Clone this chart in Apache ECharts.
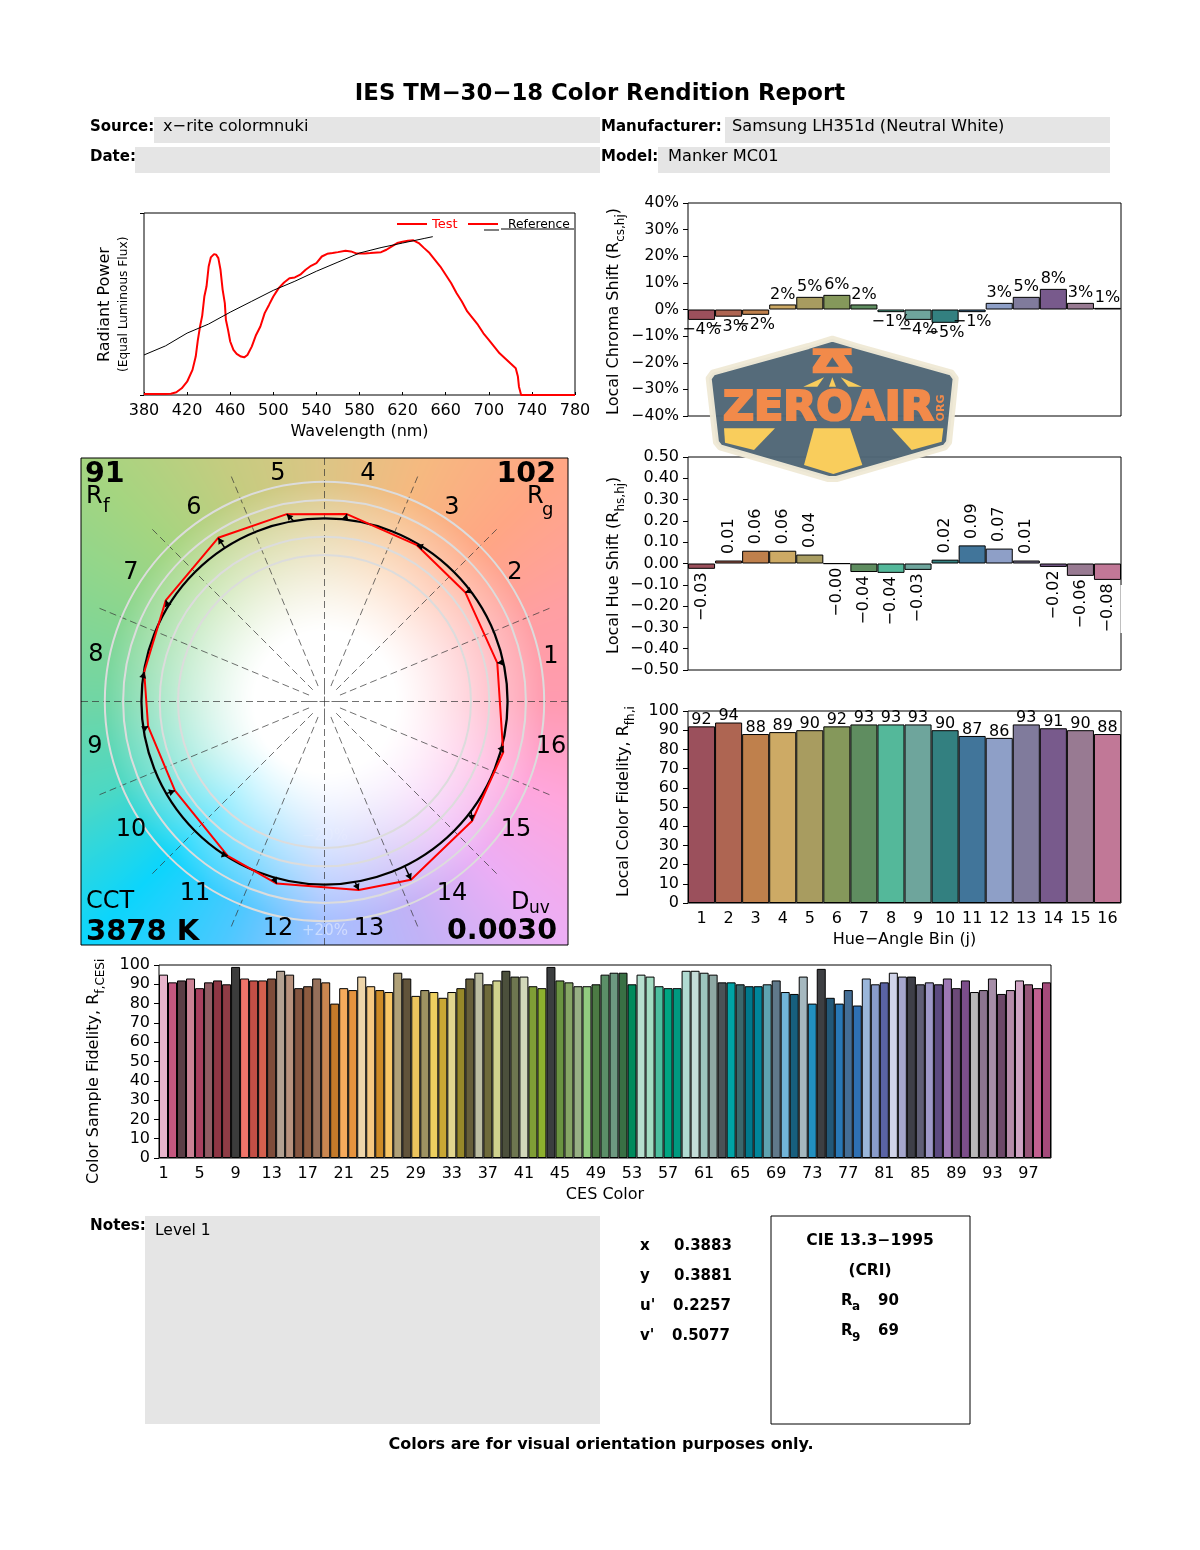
<!DOCTYPE html>
<html><head><meta charset="utf-8">
<style>html,body{margin:0;padding:0;background:#fff}#c{width:1200px;height:1550px}</style>
<script src="https://cdn.jsdelivr.net/npm/echarts@6/dist/echarts.min.js"></script>
</head><body><div id="c"></div>
<script>
const FONT='"DejaVu Sans"';
// ---------- data ----------
const spdTestWl=[380,400,405,410,415,420,425,428,430,432,434,436,438,440,442,445,447,449,451,453,455,456,458,460,463,466,470,473,476,480,484,488,492,496,500,505,510,515,520,525,530,535,540,545,550,555,560,567,572,577,585,590,600,605,610,615,620,625,630,635,640,645,650,655,660,665,670,675,680,685,690,695,700,705,710,715,720,725,727,728,730,780];
const spdTestVal=[0.005,0.005,0.007,0.015,0.037,0.073,0.138,0.211,0.303,0.376,0.435,0.541,0.596,0.706,0.756,0.774,0.771,0.752,0.688,0.578,0.505,0.413,0.358,0.294,0.248,0.226,0.211,0.207,0.22,0.266,0.33,0.376,0.45,0.495,0.541,0.587,0.618,0.642,0.646,0.661,0.688,0.71,0.725,0.761,0.776,0.78,0.785,0.793,0.789,0.778,0.778,0.78,0.785,0.798,0.817,0.835,0.842,0.848,0.85,0.835,0.807,0.78,0.743,0.706,0.661,0.615,0.56,0.514,0.459,0.422,0.385,0.339,0.303,0.266,0.229,0.202,0.174,0.147,0.101,0.046,0,0];
const spdRefWl=[380,400,420,440,460,480,500,520,540,560,580,600,620,640,648];
const spdRefVal=[0.22,0.27,0.34,0.39,0.455,0.515,0.575,0.625,0.68,0.73,0.78,0.81,0.835,0.86,0.87];
const binLabels=['1','2','3','4','5','6','7','8','9','10','11','12','13','14','15','16'];
const binColors=['#9b505c','#ae6552','#bf804c','#cdaa65','#a89c60','#85985b','#5f8d60','#54b89a','#6ea59c','#338080','#41759a','#8e9fc7','#807b9c','#785a8c','#987a92','#c17897'];
const chromaShift=[-3.9,-2.7,-2,1.9,4.75,5.5,1.9,-1,-3.9,-5,-1,2.5,4.75,7.75,2.5,0.6];
const hueShift=[-0.025,0.014,0.06,0.06,0.042,-0.001,-0.04,-0.044,-0.03,0.018,0.085,0.07,0.014,-0.016,-0.058,-0.077];
const binFidelity=[92,94,88,89,90,92,93,93,93,90,87,86,93,91,90,88];
const cesFidelity=[95,91,92,93,88,91,92,90,99,93,92,92,93,97,95,88,89,93,91,80,88,87,94,89,87,86,96,93,84,87,86,83,86,88,93,96,90,92,97,94,94,89,88,99,92,91,89,89,90,95,96,96,90,95,94,89,88,88,97,97,96,95,91,91,90,89,89,90,92,86,85,94,80,98,83,80,87,79,93,90,91,96,94,94,90,91,90,93,88,92,86,87,93,85,87,92,90,88,91];
const cesColors=['#e8b4cb','#c4577f','#5b3d45','#cb8295','#a8405f','#915c64','#8e3644','#8f3c45','#3c3c3c','#f0756a','#c24f46','#d4604e','#7e4c3a','#b3a192','#b8927e','#855641','#8e5c40','#96705a','#cb8750','#c47a2a','#f6aa5c','#e6933e','#eed5aa','#f6c880','#cd8a25','#f8c665','#b0a178','#61533a','#ecc45e','#9d9262','#edcf5f','#c9a734','#e2d68f','#978829','#665e3a','#bcbda2','#6e6a3a','#d0d28e','#4c503c','#6e7650','#d2d8ba','#7f9e36','#8db02e','#3b3e3f','#6a9340','#86a565','#97b084','#92cc80','#4c7a44','#5b8f68','#6d9980','#397044','#008a5c','#b6dfce','#a3dcc2','#4dbf9f','#00a582','#009a80','#b0dbd2','#c4dcd8','#9dc6be','#8ea8a4','#4a5256','#00a3a6','#3b676c','#00788c','#00859a','#5ea3b0','#60798a','#72b5d8','#175f7e','#a5b8bf','#2290c0','#3d3f42','#225878','#2878b6','#446e96','#2e70b4','#9ab6da','#8a9ccb','#5a63a4','#d0d3e8','#a5a6cc','#3e3f48','#5f5e76','#9e98c8','#5c4a80','#9d78b4','#6c4a78','#7c4e8a','#b8b8b8','#8c7490','#a68ea8','#6c4868','#b68caa','#d0a4c4','#965678','#c26090','#a44a7a'];
const cesLabels=cesFidelity.map((_,i)=>String(i+1));
const testRadius=[.967,.973,.992,1.031,1.044,1.066,1.028,.998,.973,.951,.995,1.028,1.046,1.082,1.037,1.015];
const testAngle=[12.6,37.7,59.4,83.2,101.4,123,147.5,170.7,188,210.8,237.9,255.3,280.3,295.9,321,344.1];
const refAngle=[12.4,37.3,57.5,83.5,99.7,123,148.6,171.9,188.6,210.2,236.9,253.8,279.6,296,323.2,345.1];
const ringValues=[0.8,0.9,1.0,1.1,1.2];
const hueBg=[[0,'#ff9bb0'],[22.5,'#ff9fa2'],[45,'#ffa684'],[67.5,'#f6b980'],[90,'#dcc585'],[112.5,'#c5cc80'],[135,'#a5d580'],[157.5,'#88d690'],[180,'#70d6a5'],[202.5,'#4cd8c4'],[225,'#0cd5fc'],[247.5,'#4cc8ff'],[270,'#a5c0ff'],[292.5,'#c2b2f6'],[315,'#ecaef5'],[337.5,'#ffa6dc'],[360,'#ff9bb0']];

// ---------- helpers ----------
const meas=document.createElement('canvas').getContext('2d');
const els=[];
function T(x,y,text,o){o=o||{};const size=o.size||15,weight=o.weight||'normal';
  els.push({type:'text',x:o.rot?x+1:x,y:o.rot?y:y+1,rotation:o.rot||0,z:o.z||50,silent:true,style:{text,fill:o.color||'#000',font:weight+' '+size+'px '+FONT,
    align:o.align||'left',verticalAlign:'middle',textAlign:o.align||'left',textVerticalAlign:'middle',opacity:o.opacity==null?1:o.opacity}});}
function upText(x,y,segs){ // rotated 90deg text reading upward, starts at (x,y)
  let p=y;segs.forEach(s=>{meas.font=s.size+'px '+FONT;T(x+(s.off||0),p,s.t,{size:s.size,rot:Math.PI/2});p-=meas.measureText(s.t).width;});}
function rect(x,y,w,h,fill,stroke,z){els.push({type:'rect',silent:true,z:z==null?1:z,shape:{x,y,width:w,height:h},style:{fill:fill||'none',stroke:stroke||'none',lineWidth:1}});}
function seg(x1,y1,x2,y2,c,w,z){els.push({type:'line',silent:true,z:z||40,shape:{x1,y1,x2,y2},style:{stroke:c,lineWidth:w}});}
function fmtMinus(s){return String(s).replace('-','\u2212');}

// background of the colour-vector graphic
function makeBg(){const W=487,cv=document.createElement('canvas');cv.width=W;cv.height=W;const c=cv.getContext('2d'),im=c.createImageData(W,W);
  const rgb=hueBg.map(h=>[h[0],parseInt(h[1].slice(1,3),16),parseInt(h[1].slice(3,5),16),parseInt(h[1].slice(5,7),16)]);
  for(let j=0;j<W;j++)for(let i=0;i<W;i++){const dx=i-W/2,dy=W/2-j,r=Math.hypot(dx,dy);let a=Math.atan2(dy,dx)*180/Math.PI;if(a<0)a+=360;
    const k=Math.min(15,Math.floor(a/22.5)),f=(a-rgb[k][0])/22.5,t=Math.min(1,Math.max(0,(r-70)/150)),u=Math.pow(t,1.2);
    const d=(i+j*W)*4;for(let n=0;n<3;n++){const col=rgb[k][n+1]*(1-f)+rgb[k+1][n+1]*f;im.data[d+n]=255*(1-u)+col*u;}im.data[d+3]=255;}
  c.putImageData(im,0,0);return cv;}
els.push({type:'image',z:-10,silent:true,style:{image:makeBg(),x:81,y:458,width:487,height:487}});
rect(81,458,487,487,'none','#000',45);

// header
T(600,93,'IES TM\u221230\u221218 Color Rendition Report',{size:22.8,weight:'bold',align:'center'});
[[154,117,446,26],[135,147,465,26],[725,117,385,26],[658,147,452,26],[145,1216,455,208]].forEach(r=>rect(r[0],r[1],r[2],r[3],'#e5e5e5'));
T(90,126,'Source:',{weight:'bold',size:15});T(90,156,'Date:',{weight:'bold',size:15});
T(601,126,'Manufacturer:',{weight:'bold',size:15});T(601,156,'Model:',{weight:'bold',size:15});
T(163,126,'x\u2212rite colormnuki',{size:16.2});T(732,126,'Samsung LH351d (Neutral White)',{size:16.2});T(668,156,'Manker MC01',{size:16.2});
// notes etc
T(90,1225,'Notes:',{weight:'bold',size:15.2});T(155,1230,'Level 1',{size:15.5});
[['x','0.3883',1245,674],['y','0.3881',1275,674],["u'",'0.2257',1305,673],["v'",'0.5077',1335,672]].forEach(r=>{T(640,r[2],r[0],{weight:'bold',size:15});T(r[3],r[2],r[1],{weight:'bold',size:15});});
rect(771,1216,199,208,'none','#000',5);
T(870,1240,'CIE 13.3\u22121995',{weight:'bold',size:15.5,align:'center'});T(870,1270,'(CRI)',{weight:'bold',size:15.5,align:'center'});
T(841,1300,'R',{weight:'bold',size:15});T(852,1306,'a',{weight:'bold',size:12});T(878,1300,'90',{weight:'bold',size:15});
T(841,1330,'R',{weight:'bold',size:15});T(852,1337,'9',{weight:'bold',size:12});T(878,1330,'69',{weight:'bold',size:15});
T(601,1444,'Colors are for visual orientation purposes only.',{weight:'bold',size:16,align:'center'});
// axis titles with subscripts
upText(104,362,[{t:'Radiant Power',size:16}]);upText(123,372,[{t:'(Equal Luminous Flux)',size:12.2}]);
upText(613,415,[{t:'Local Chroma Shift (R',size:16},{t:'cs,hj',size:12,off:7},{t:')',size:16}]);
upText(613,654,[{t:'Local Hue Shift (R',size:16},{t:'hs,hj',size:12,off:7},{t:')',size:16}]);
upText(623,897,[{t:'Local Color Fidelity, R',size:16},{t:'fh,i',size:12,off:7}]);
upText(93,1184,[{t:'Color Sample Fidelity, R',size:16},{t:'f,CESi',size:12,off:7}]);
// SPD legend
seg(397,224,427,224,'#f00',2);T(432,224,'Test',{size:13,color:'#f00'});seg(468,224,498,224,'#f00',2);T(508,224,'Reference',{size:12.3});
seg(484,230,499,230,'#000',1);seg(501,229,574,229,'#000',1);
// break in the hue chart frame
seg(1121.5,585,1121.5,633,'#fff',2,30);
// CVG texts
T(85,474,'91',{size:28.5,weight:'bold'});T(86,496,'R',{size:24});T(103,506,'f',{size:19});
T(556,474,'102',{size:28.5,weight:'bold',align:'right'});T(527,496,'R',{size:24});T(542,509,'g',{size:18});
T(86,901,'CCT',{size:24});T(86,931,'3878 K',{size:29,weight:'bold'});
T(511,902,'D',{size:24});T(529,908,'uv',{size:17});T(557,931,'0.0030',{size:28.5,weight:'bold',align:'right'});
T(325,930,'+20%',{size:15,color:'#fff',align:'center',opacity:.45});T(325,835,'\u221220%',{size:15,color:'#fff',align:'center',opacity:.12});
[[551,657],[515,573],[452,508],[368,474],[278,474],[194,508],[131,573],[96,655],[95,747],[131,830],[195,894],[278,929],[369,929],[452,894],[516,830],[551,747]].forEach((p,i)=>T(p[0],p[1]-1,binLabels[i],{size:24,align:'center'}));

// ZEROAIR watermark (decorative)
const L=(a)=>a.map(p=>[700+p[0]/3,330+p[1]/3]);
function poly(pts,fill,extra){els.push(Object.assign({type:'polygon',silent:true,z:60,shape:{points:L(pts)},style:Object.assign({fill},extra||{})}));}
poly([[397,26],[470,48],[755,128],[767,145],[747,337],[735,352],[410,447],[385,447],[60,352],[48,337],[26,145],[38,128],[325,48]],'#506676',{stroke:'#efe9d6',lineWidth:6,lineJoin:'round',opacity:.97});
poly([[338,55],[455,55],[455,75],[432,75],[457,112],[457,130],[338,130],[338,112],[363,75],[338,75]],'#f28a4a');
poly([[397,82],[417,110],[378,110]],'#506676');
poly([[310,170],[372,142],[352,170]],'#f9cd5c');poly([[387,170],[397,142],[408,170]],'#f9cd5c');poly([[422,142],[485,170],[445,170]],'#f9cd5c');
poly([[72,295],[225,295],[162,360],[75,338]],'#f9cd5c');poly([[342,295],[450,295],[487,405],[400,432],[312,405]],'#f9cd5c');poly([[575,295],[730,295],[725,335],[635,360]],'#f9cd5c');
els.push({type:'text',x:723,y:409,z:61,scaleX:1.045,silent:true,style:{text:'ZEROAIR',fill:'#f28a4a',stroke:'#f28a4a',lineWidth:2.2,font:'900 41px "DejaVu Sans"',align:'left',verticalAlign:'middle',textAlign:'left',textVerticalAlign:'middle'}});
els.push({type:'text',x:941,y:408,z:61,rotation:Math.PI/2,silent:true,style:{text:'ORG',fill:'#f28a4a',font:'900 11px "DejaVu Sans"',align:'center',verticalAlign:'middle',textAlign:'center',textVerticalAlign:'middle'}});

// ---------- chart ----------
const lab={fontFamily:FONT,fontSize:16,color:'#000'};
const frame=(i,l,t,w,h)=>({id:'g'+i,left:l,top:t,width:w,height:h,show:true,borderColor:'#000',borderWidth:1,backgroundColor:'transparent',containLabel:false});
const grids=[frame(0,144,213,431,182),frame(1,688,203,433,213),frame(2,688,457,433,213),frame(3,688,711,433,192),frame(4,159,965,892,193)];
const yTick={show:true,length:5,lineStyle:{color:'#000'}};
const catAxis=(gi,data,o)=>Object.assign({type:'category',gridIndex:gi,data,boundaryGap:true,axisLine:{show:false},axisTick:{show:false},splitLine:{show:false},axisLabel:Object.assign({},lab,{interval:0,margin:8})},o||{});
const valY=(gi,min,max,interval,fmt,size)=>({type:'value',gridIndex:gi,min,max,interval,axisLine:{show:false},axisTick:yTick,splitLine:{show:false},axisLabel:Object.assign({},lab,{margin:9,fontSize:size||16,formatter:fmt||(v=>String(v))})});
const bar=(gi,vals,colors,labelFn)=>({type:'bar',xAxisIndex:gi,yAxisIndex:gi,barWidth:'100%',barGap:'0%',silent:true,animation:false,
  data:vals.map((v,i)=>({value:v,itemStyle:{color:colors[i],borderColor:'#000',borderWidth:1},label:labelFn?labelFn(v,i):{show:false}}))});

const option={animation:false,backgroundColor:'#fff',textStyle:{fontFamily:FONT},graphic:{elements:els},
 grid:grids,
 xAxis:[
  {type:'value',gridIndex:0,min:380,max:780,interval:40,axisLine:{show:false},axisTick:{show:true,inside:true,length:3,lineStyle:{color:'#000'}},splitLine:{show:false},
   axisLabel:Object.assign({},lab,{margin:8,showMaxLabel:true,showMinLabel:true}),name:'Wavelength (nm)',nameLocation:'middle',nameGap:29,nameTextStyle:lab},
  catAxis(1,binLabels,{axisLabel:{show:false}}),
  catAxis(2,binLabels,{axisLabel:{show:false}}),
  catAxis(3,binLabels,{name:'Hue\u2212Angle Bin (j)',nameLocation:'middle',nameGap:29,nameTextStyle:lab}),
  catAxis(4,cesLabels,{axisLabel:Object.assign({},lab,{interval:3,margin:8}),name:'CES Color',nameLocation:'middle',nameGap:29,nameTextStyle:lab})
 ],
 yAxis:[
  {type:'value',gridIndex:0,min:0,max:1,interval:1,axisLine:{show:false},axisTick:{show:true,length:4,lineStyle:{color:'#000'}},axisLabel:{show:false},splitLine:{show:false}},
  valY(1,-40,40,10,v=>fmtMinus(v)+'%',15.5),
  valY(2,-0.5,0.5,0.1,v=>fmtMinus(v.toFixed(2))),
  valY(3,0,100,10),
  valY(4,0,100,10)
 ],
 polar:{center:[324.5,701.5],radius:[0,243.5]},
 angleAxis:{type:'value',min:0,max:360,interval:22.5,startAngle:0,clockwise:false,axisLine:{show:false},axisTick:{show:false},axisLabel:{show:false},splitLine:{show:true,lineStyle:{type:[7,4],color:'#333',width:.7}}},
 radiusAxis:{type:'value',min:0,max:1.33,axisLine:{show:false},axisTick:{show:false},axisLabel:{show:false},splitLine:{show:false}},
 series:[
  {type:'line',name:'Test',xAxisIndex:0,yAxisIndex:0,showSymbol:false,z:4,lineStyle:{color:'#f00',width:2},data:spdTestWl.map((w,i)=>[w,spdTestVal[i]])},
  {type:'line',name:'Reference',xAxisIndex:0,yAxisIndex:0,showSymbol:false,z:5,lineStyle:{color:'#000',width:1},data:spdRefWl.map((w,i)=>[w,spdRefVal[i]])},
  bar(1,chromaShift,binColors,(v)=>({show:true,position:v<0?'bottom':'top',distance:v<0?2:2,formatter:fmtMinus(Math.round(v))+'%',fontFamily:FONT,fontSize:16,color:'#000'})),
  bar(2,hueShift,binColors,(v)=>({show:true,position:v<0?'bottom':'top',distance:5,rotate:90,align:v<0?'right':'left',verticalAlign:'middle',offset:[1.5,0],formatter:fmtMinus(v.toFixed(2)),fontFamily:FONT,fontSize:16,color:'#000'})),
  bar(3,binFidelity,binColors,(v)=>({show:true,position:'top',distance:0,offset:[0,1.5],formatter:String(v),fontFamily:FONT,fontSize:16,color:'#000'})),
  bar(4,cesFidelity,cesColors),
  {type:'custom',coordinateSystem:'polar',silent:true,z:1,data:[[0.09,0]],encode:{radius:0,angle:1},
   renderItem:(p,api)=>{const c=api.coord([0,0]),e=api.coord([api.value(0),0]),r=Math.abs(e[0]-c[0]),s=5;
     return {type:'group',children:[{type:'circle',shape:{cx:c[0],cy:c[1],r},style:{fill:'#fff'}},
       {type:'line',shape:{x1:c[0]-r,y1:c[1],x2:c[0]-s-2,y2:c[1]},style:{stroke:'#333',lineWidth:.7}},{type:'line',shape:{x1:c[0]+s+2,y1:c[1],x2:c[0]+r,y2:c[1]},style:{stroke:'#333',lineWidth:.7}},
       {type:'line',shape:{x1:c[0]-s,y1:c[1],x2:c[0]+s,y2:c[1]},style:{stroke:'#333',lineWidth:.7}},{type:'line',shape:{x1:c[0],y1:c[1]-s,x2:c[0],y2:c[1]+s},style:{stroke:'#333',lineWidth:.7}},
       {type:'line',shape:{x1:c[0],y1:c[1]-r,x2:c[0],y2:c[1]-s-2},style:{stroke:'#333',lineWidth:.7}},{type:'line',shape:{x1:c[0],y1:c[1]+s+2,x2:c[0],y2:c[1]+r},style:{stroke:'#333',lineWidth:.7}}]};}},
  {type:'custom',coordinateSystem:'polar',silent:true,z:2,data:ringValues.map(r=>[r,0]),encode:{radius:0,angle:1},
   renderItem:(p,api)=>{const c=api.coord([0,0]),e=api.coord([api.value(0),0]);return {type:'circle',shape:{cx:c[0],cy:c[1],r:Math.abs(e[0]-c[0])},style:{fill:'none',stroke:'#dcdcdc',lineWidth:2}};}},
  {type:'custom',coordinateSystem:'polar',silent:true,z:3,data:[[1,0]],encode:{radius:0,angle:1},
   renderItem:(p,api)=>{const c=api.coord([0,0]),e=api.coord([api.value(0),0]);return {type:'circle',shape:{cx:c[0],cy:c[1],r:Math.abs(e[0]-c[0])},style:{fill:'none',stroke:'#000',lineWidth:2.3}};}},
  {type:'custom',coordinateSystem:'polar',silent:true,z:5,data:testRadius.map((r,i)=>[r,testAngle[i],refAngle[i]]),encode:{radius:0,angle:1},
   renderItem:(p,api)=>{const a=api.coord([1,api.value(2)]),b=api.coord([api.value(0),api.value(1)]);const ang=Math.atan2(b[1]-a[1],b[0]-a[0]),h=6,w=3.5;
     const bx=b[0]-h*Math.cos(ang),by=b[1]-h*Math.sin(ang),nx=-Math.sin(ang)*w,ny=Math.cos(ang)*w;
     return {type:'group',children:[{type:'line',shape:{x1:a[0],y1:a[1],x2:b[0],y2:b[1]},style:{stroke:'#000',lineWidth:1.5}},
       {type:'polygon',shape:{points:[[b[0],b[1]],[bx+nx,by+ny],[bx-nx,by-ny]]},style:{fill:'#000'}}]};}},
  {type:'line',coordinateSystem:'polar',silent:true,z:4,showSymbol:false,lineStyle:{color:'#f00',width:2},data:testRadius.concat(testRadius[0]).map((r,i)=>[r,i<16?testAngle[i]:testAngle[0]+360])}
 ]};
const chart=echarts.init(document.getElementById('c'),null,{renderer:'canvas',width:1200,height:1550});
chart.setOption(option);
</script></body></html>
